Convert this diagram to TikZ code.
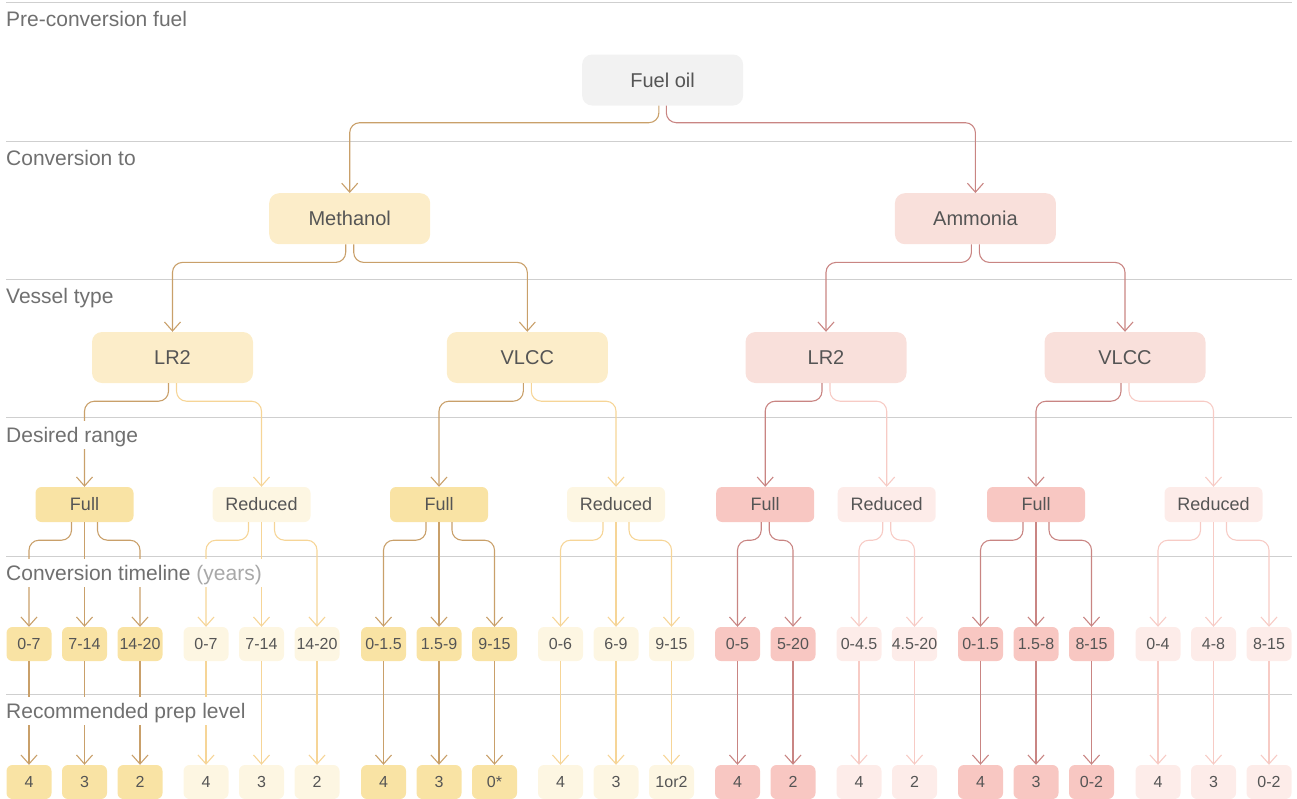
\documentclass[tikz,border=0pt]{standalone}
\usepackage{fontspec}
\setmainfont{Liberation Sans}
\usetikzlibrary{arrows.meta}
\definecolor{sep}{HTML}{CFCFCF}
\definecolor{lbl}{HTML}{707070}
\definecolor{lbllt}{HTML}{A8A8A8}
\definecolor{txt}{HTML}{555555}
\definecolor{fuelfill}{HTML}{F2F2F2}
\definecolor{mfill}{HTML}{FCEDC9}
\definecolor{mfullfill}{HTML}{F9E3A4}
\definecolor{mredfill}{HTML}{FDF6E2}
\definecolor{afill}{HTML}{F9E0DB}
\definecolor{afullfill}{HTML}{F8C7C2}
\definecolor{aredfill}{HTML}{FDECE9}
\definecolor{mdk}{HTML}{C9A06A}
\definecolor{mlt}{HTML}{F6D597}
\definecolor{adk}{HTML}{C98583}
\definecolor{alt}{HTML}{F7CBC5}
\newcommand\threekids[3]{%
  \draw[conn,#3] ([xshift=-13pt]#1.south) -- ++(0,18) -| (#2t1.north);
  \draw[conn,#3] (#1.south) -- (#2t2.north);
  \draw[conn,#3] ([xshift=13pt]#1.south) -- ++(0,18) -| (#2t3.north);}
\newcommand\twokids[4]{%
  \draw[conn,#4] ([xshift=-4pt]#1.south) -- ++(0,18) -| (#2.north);
  \draw[conn,#4] ([xshift=4pt]#1.south) -- ++(0,18) -| (#3.north);}
\begin{document}
\begin{tikzpicture}[x=1pt,y=-1pt,
  big/.style={rounded corners=10pt, minimum width=161pt, minimum height=51pt, inner sep=0pt, text=txt, font=\fontsize{20}{24}\selectfont},
  mid/.style={rounded corners=6pt, minimum width=98pt, minimum height=35pt, inner sep=0pt, text=txt, font=\fontsize{18}{22}\selectfont},
  small/.style={rounded corners=6pt, minimum width=45pt, minimum height=34pt, inner sep=0pt, text=txt, font=\fontsize{16}{19}\selectfont},
  lab/.style={anchor=base west, fill=white, inner ysep=0pt, inner xsep=3pt, text height=21.5pt, text depth=6.5pt, text=lbl, font=\fontsize{21}{25}\selectfont},
  conn/.style={line width=1.1pt, rounded corners=10pt, -{Straight Barb[length=9pt,width=16pt,line width=1.1pt]}},
]
\useasboundingbox (0,0) rectangle (1297,798);
% separators
\foreach \y in {2.7,141.1,279.5,417.9,556.3,694.7}
  \draw[sep, line width=1pt] (6,\y) -- (1292,\y);
% top levels
\node[big, fill=fuelfill] (fuel) at (662.6,80) {Fuel oil};
\node[big, fill=mfill] (meth) at (349.7,218.7) {Methanol};
\node[big, fill=afill] (ammo) at (975.4,218.7) {Ammonia};
\node[big, fill=mfill] (v1) at (172.5,357.5) {LR2};
\node[big, fill=mfill] (v2) at (527.3,357.5) {VLCC};
\node[big, fill=afill] (v3) at (826,357.5) {LR2};
\node[big, fill=afill] (v4) at (1125,357.5) {VLCC};
% desired range
\node[mid, fill=mfullfill] (f1) at (84.5,504.5) {Full};
\node[mid, fill=mredfill] (r1) at (261.5,504.5) {Reduced};
\node[mid, fill=mfullfill] (f2) at (439,504.5) {Full};
\node[mid, fill=mredfill] (r2) at (616,504.5) {Reduced};
\node[mid, fill=afullfill] (f3) at (765.2,504.5) {Full};
\node[mid, fill=aredfill] (r3) at (886.7,504.5) {Reduced};
\node[mid, fill=afullfill] (f4) at (1036,504.5) {Full};
\node[mid, fill=aredfill] (r4) at (1213.5,504.5) {Reduced};
% timelines and prep levels
\foreach \x/\t/\p [count=\i] in {29/0-7/4, 84.5/7-14/3, 140/14-20/2}{
  \node[small, fill=mfullfill] (at\i) at (\x,644) {\t};
  \node[small, fill=mfullfill] (ap\i) at (\x,782) {\p};
  \draw[conn,mdk] (at\i.south) -- (ap\i.north);}
\foreach \x/\t/\p [count=\i] in {206/0-7/4, 261.5/7-14/3, 317/14-20/2}{
  \node[small, fill=mredfill] (bt\i) at (\x,644) {\t};
  \node[small, fill=mredfill] (bp\i) at (\x,782) {\p};
  \draw[conn,mlt] (bt\i.south) -- (bp\i.north);}
\foreach \x/\t/\p [count=\i] in {383.5/0-1.5/4, 439/1.5-9/3, 494.5/9-15/0*}{
  \node[small, fill=mfullfill] (ct\i) at (\x,644) {\t};
  \node[small, fill=mfullfill] (cp\i) at (\x,782) {\p};
  \draw[conn,mdk] (ct\i.south) -- (cp\i.north);}
\foreach \x/\t/\p [count=\i] in {560.5/0-6/4, 616/6-9/3, 671.5/9-15/1or2}{
  \node[small, fill=mredfill] (dt\i) at (\x,644) {\t};
  \node[small, fill=mredfill] (dp\i) at (\x,782) {\p};
  \draw[conn,mlt] (dt\i.south) -- (dp\i.north);}
\foreach \x/\t/\p [count=\i] in {737.5/0-5/4, 793/5-20/2}{
  \node[small, fill=afullfill] (et\i) at (\x,644) {\t};
  \node[small, fill=afullfill] (ep\i) at (\x,782) {\p};
  \draw[conn,adk] (et\i.south) -- (ep\i.north);}
\foreach \x/\t/\p [count=\i] in {859/0-4.5/4, 914.5/4.5-20/2}{
  \node[small, fill=aredfill] (gt\i) at (\x,644) {\t};
  \node[small, fill=aredfill] (gp\i) at (\x,782) {\p};
  \draw[conn,alt] (gt\i.south) -- (gp\i.north);}
\foreach \x/\t/\p [count=\i] in {980.5/0-1.5/4, 1036/1.5-8/3, 1091.5/8-15/0-2}{
  \node[small, fill=afullfill] (ht\i) at (\x,644) {\t};
  \node[small, fill=afullfill] (hp\i) at (\x,782) {\p};
  \draw[conn,adk] (ht\i.south) -- (hp\i.north);}
\foreach \x/\t/\p [count=\i] in {1158/0-4/4, 1213.5/4-8/3, 1269/8-15/0-2}{
  \node[small, fill=aredfill] (kt\i) at (\x,644) {\t};
  \node[small, fill=aredfill] (kp\i) at (\x,782) {\p};
  \draw[conn,alt] (kt\i.south) -- (kp\i.north);}
% tree connectors
\draw[conn,mdk] ([xshift=-3.7pt]fuel.south) -- ++(0,17) -| (meth.north);
\draw[conn,adk] ([xshift=3.7pt]fuel.south) -- ++(0,17) -| (ammo.north);
\twokids{meth}{v1}{v2}{mdk}
\twokids{ammo}{v3}{v4}{adk}
\draw[conn,mdk] ([xshift=-4pt]v1.south) -- ++(0,18) -| (f1.north);
\draw[conn,mlt] ([xshift=4pt]v1.south) -- ++(0,18) -| (r1.north);
\draw[conn,mdk] ([xshift=-4pt]v2.south) -- ++(0,18) -| (f2.north);
\draw[conn,mlt] ([xshift=4pt]v2.south) -- ++(0,18) -| (r2.north);
\draw[conn,adk] ([xshift=-4pt]v3.south) -- ++(0,18) -| (f3.north);
\draw[conn,alt] ([xshift=4pt]v3.south) -- ++(0,18) -| (r3.north);
\draw[conn,adk] ([xshift=-4pt]v4.south) -- ++(0,18) -| (f4.north);
\draw[conn,alt] ([xshift=4pt]v4.south) -- ++(0,18) -| (r4.north);
\threekids{f1}{a}{mdk}
\threekids{r1}{b}{mlt}
\threekids{f2}{c}{mdk}
\threekids{r2}{d}{mlt}
\twokids{f3}{et1}{et2}{adk}
\twokids{r3}{gt1}{gt2}{alt}
\threekids{f4}{h}{adk}
\threekids{r4}{k}{alt}
% row labels (white backing hides the connectors behind them)
\node[lab] (l1) at (3,26.5) {Pre-conversion fuel};
\node[lab] (l2) at (3,165) {Conversion to};
\node[lab] (l3) at (3,303.5) {Vessel type};
\node[lab] (l4) at (3,442) {Desired range};
\node[lab] (l5) at (3,580.3) {Conversion timeline \textcolor{lbllt}{(years)}};
\node[lab] (l6) at (3,718.7) {Recommended prep level};
\end{tikzpicture}
\end{document}
